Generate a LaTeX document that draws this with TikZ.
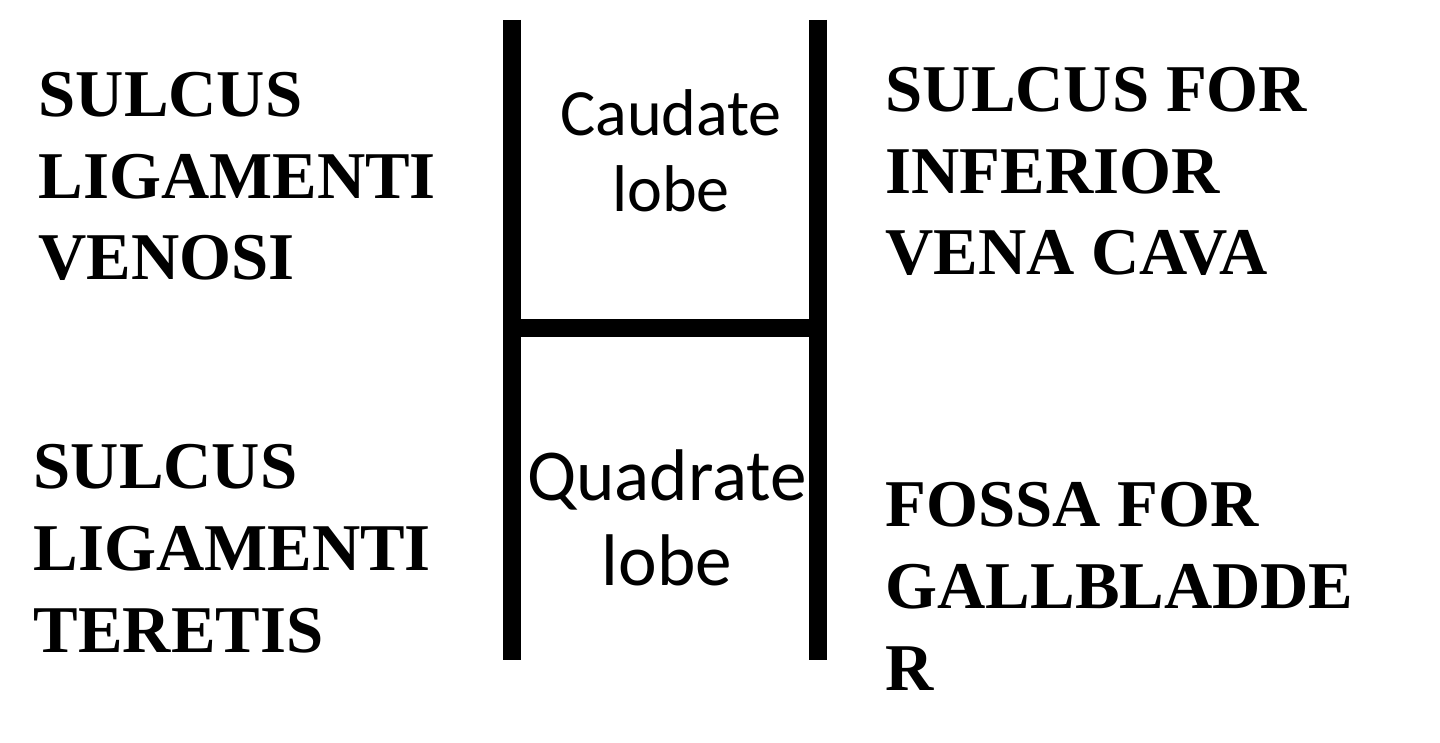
\documentclass[tikz,border=0pt]{standalone}
\usepackage{fontspec}
\setmainfont{Liberation Serif}
\newfontfamily\lobefont{Carlito}
\usepackage{tikz}
\usetikzlibrary{positioning}

\tikzset{
  sulcus/.style={font=\bfseries\fontsize{19}{23.2}\selectfont, align=left, inner sep=0pt, anchor=base west},
  lobe/.style={font={\lobefont\fontsize{#1}{#1}\selectfont\baselineskip=1.16\baselineskip}, align=center, inner sep=0pt, anchor=base},
  fissure/.style={line width=5.1pt, line cap=butt}
}

\begin{document}
\begin{tikzpicture}[x=0.01cm, y=-0.01cm]
\useasboundingbox (0,0) rectangle (1440,743);
% the H of the fissures
\coordinate (lt) at (512,20);
\coordinate (lb) at (512,660);
\coordinate (rt) at (818,20);
\coordinate (rb) at (818,660);
\draw[fissure] (lt) -- (lb);
\draw[fissure] (rt) -- (rb);
\draw[fissure] (512,328) -- (818,328);
% lobes
\node[lobe=18.8] (caudate) at (671,212) {Caudate\\lobe};
\node[lobe=20.8] (quadrate) at (667,585) {Quadrate\\lobe};
% sulci, left
\node[sulcus] (venosi) at (38,280) {SULCUS\\LIGAMENTI\\VENOSI};
\node[sulcus] (teretis) at (33,652) {SULCUS\\LIGAMENTI\\TERETIS};
% sulci, right
\node[sulcus] (cava) at (885,275) {SULCUS FOR\\INFERIOR\\VENA CAVA};
\node[sulcus] (gallbladder) at (885,690) {FOSSA FOR\\GALLBLADDE\\R};
\end{tikzpicture}
\end{document}
